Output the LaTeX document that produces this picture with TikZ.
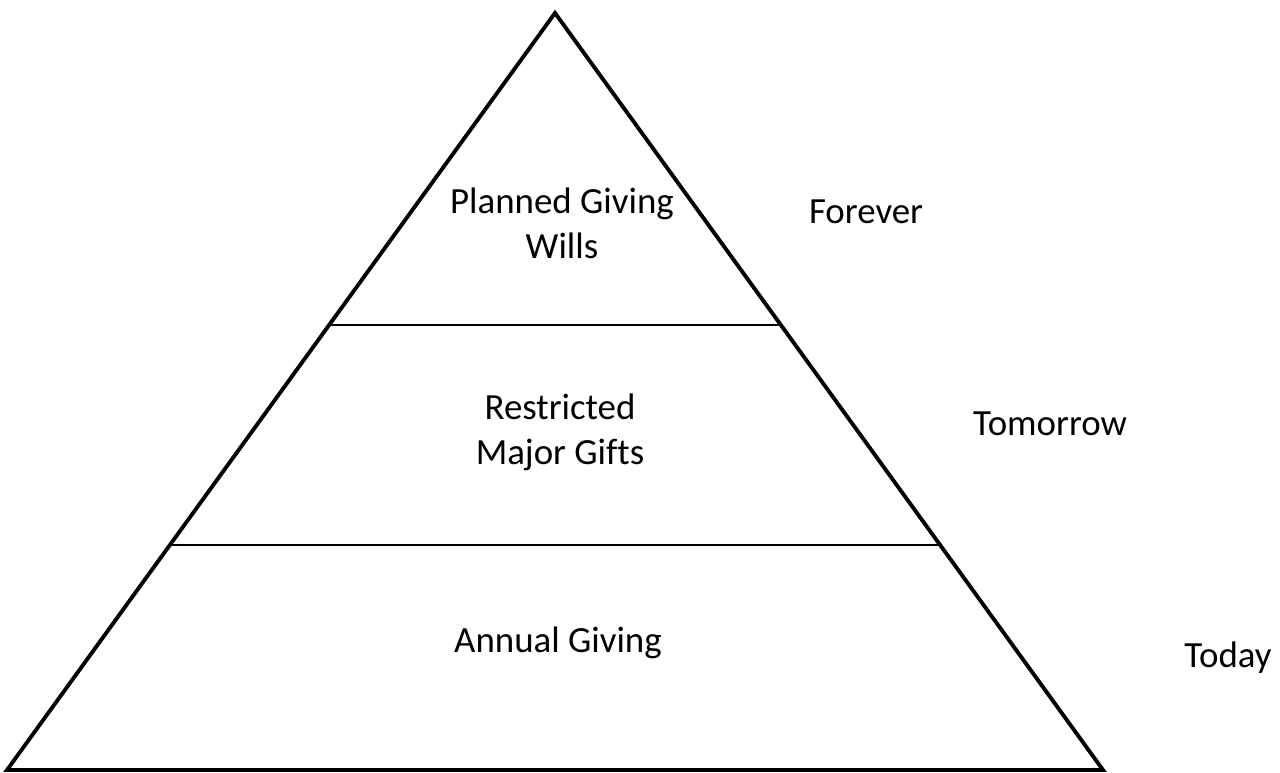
\documentclass[tikz,border=0pt]{standalone}
\usepackage{fontspec}
\setmainfont[Ligatures=NoCommon]{Carlito}
\usetikzlibrary{positioning,calc}
\definecolor{inkBlack}{HTML}{000000}
\tikzset{
    tierlabel/.style={align=center,text=inkBlack,inner sep=0pt,
        font=\fontsize{21}{25.5}\selectfont},
    timelabel/.style={text=inkBlack,inner sep=0pt,
        font=\fontsize{21}{25.5}\selectfont},
    outline/.style={draw=inkBlack,line width=2.2pt,line join=miter},
    divider/.style={draw=inkBlack,line width=0.8pt}
}

\begin{document}
\begin{tikzpicture}[x=0.02cm,y=-0.02cm]
    \useasboundingbox (0,0) rectangle (1280,773);
    % pyramid corners
    \coordinate (apex) at (555,13);
    \coordinate (baseL) at (7,770);
    \coordinate (baseR) at (1103,770);
    \draw[outline] (apex) -- (baseR) -- (baseL) -- cycle;
    % tier boundaries
    \coordinate (midL) at ($(apex)!0.4121!(baseL)$);
    \coordinate (midR) at ($(apex)!0.4121!(baseR)$);
    \coordinate (lowL) at ($(apex)!0.7028!(baseL)$);
    \coordinate (lowR) at ($(apex)!0.7028!(baseR)$);
    \draw[divider] (midL) -- (midR);
    \draw[divider] (lowL) -- (lowR);
    % tier texts
    \node[tierlabel] (planned) at (562,223) {Planned Giving\\Wills};
    \node[tierlabel] (restricted) at (560,432) {Restricted\\Major Gifts};
    \node[tierlabel] (annual) at (558,643) {Annual Giving};
    % time horizon
    \node[timelabel] (forever) at (866,212) {Forever};
    \node[timelabel] (tomorrow) at (1050,424) {Tomorrow};
    \node[timelabel] (today) at (1228,658) {Today};
\end{tikzpicture}
\end{document}
